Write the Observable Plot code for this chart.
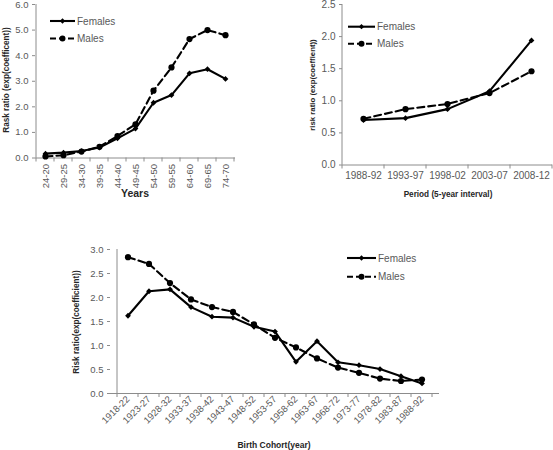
<!DOCTYPE html>
<html>
<head>
<meta charset="utf-8">
<script src="https://cdn.jsdelivr.net/npm/d3@7"></script>
<script src="https://cdn.jsdelivr.net/npm/@observablehq/plot@0.6"></script>
<style>
  html, body { margin: 0; padding: 0; background: #fff; }
  #chart { position: relative; width: 553px; height: 450px; overflow: hidden; background: #fff; }
  #chart > svg, #chart > div { position: absolute; }
</style>
</head>
<body>
<div id="chart"></div>
<script>
// ---------------- DATA ----------------
const ageGroups = ["24-20","29-25","34-30","39-35","44-40","49-45","54-50","59-55","64-60","69-65","74-70"];
const ageFemales = [0.17, 0.21, 0.27, 0.41, 0.77, 1.15, 2.16, 2.46, 3.31, 3.47, 3.09];
const ageMales   = [0.06, 0.11, 0.25, 0.44, 0.86, 1.32, 2.63, 3.54, 4.65, 5.00, 4.80];

const periods = ["1988-92","1993-97","1998-02","2003-07","2008-12"];
const periodFemales = [0.70, 0.73, 0.87, 1.15, 1.94];
const periodMales   = [0.72, 0.87, 0.95, 1.12, 1.46];

const cohorts = ["1918-22","1923-27","1928-32","1933-37","1938-42","1943-47","1948-52","1953-57","1958-62","1963-67","1968-72","1973-77","1978-82","1983-87","1988-92"];
const cohortFemales = [1.62, 2.13, 2.17, 1.80, 1.60, 1.58, 1.39, 1.29, 0.66, 1.09, 0.65, 0.59, 0.51, 0.36, 0.21];
const cohortMales   = [2.84, 2.70, 2.30, 1.96, 1.80, 1.70, 1.44, 1.16, 0.96, 0.73, 0.54, 0.43, 0.31, 0.26, 0.29];

const ageTicks = [0, 1, 2, 3, 4, 5, 6];
const periodTicks = [0, 0.5, 1, 1.5, 2, 2.5];
const cohortTicks = [0, 0.5, 1, 1.5, 2, 2.5, 3];

const seriesNames = ["Females", "Males"];

// ---------------- STYLE ----------------
const FONT = '"Liberation Sans", Arial, sans-serif';
const AXIS = "#8c8c8c";
const TEXT = "#595959";

function toRows(cats, f, m) {
  return cats.flatMap((c, i) => [
    {cat: c, value: f[i], series: "Females"},
    {cat: c, value: m[i], series: "Males"}
  ]);
}

// category boundary ticks + left axis line, from the band scale
function axisFrame(cats, len, yMax) {
  return (index, scales) => {
    const x = scales.x, y = scales.y;
    const step = x(cats[1]) - x(cats[0]);
    const y0 = y(0);
    const g = d3.create("svg:g").attr("stroke", AXIS).attr("stroke-width", 1);
    const xs = cats.map(c => x(c)).concat([x(cats[cats.length - 1]) + step]);
    for (const px of xs) {
      g.append("line").attr("x1", px).attr("x2", px).attr("y1", y0).attr("y2", y0 + len);
    }
    g.append("line").attr("x1", xs[0]).attr("x2", xs[0]).attr("y1", y0).attr("y2", y(yMax));
    return g.node();
  };
}

function panel({cats, f, m, ticks, yMax, width, height, margins, rotate, tickPadX, fontSize}) {
  const rows = toRows(cats, f, m);
  const fem = rows.filter(d => d.series === "Females");
  const mal = rows.filter(d => d.series === "Males");
  return Plot.plot({
    width, height,
    marginLeft: margins[3], marginRight: margins[1], marginTop: margins[0], marginBottom: margins[2],
    style: {fontFamily: FONT, fontSize: fontSize + "px", color: TEXT, background: "transparent", overflow: "visible"},
    x: {type: "band", domain: cats, padding: 0},
    y: {domain: [0, yMax]},
    marks: [
      Plot.ruleY([0], {stroke: AXIS}),
      Plot.axisY({ticks, tickFormat: d3.format(".1f"), tickSize: 3, tickPadding: 4, stroke: AXIS, fill: TEXT, label: null}),
      axisFrame(cats, 4, yMax),
      Plot.axisX({tickSize: 0, tickPadding: tickPadX, tickRotate: rotate, fill: TEXT, label: null}),
      Plot.line(fem, {x: "cat", y: "value", stroke: "black", strokeWidth: 2.1}),
      Plot.line(mal, {x: "cat", y: "value", stroke: "black", strokeWidth: 2.1, strokeDasharray: "7,4"}),
      Plot.dot(fem, {x: "cat", y: "value", symbol: "diamond2", r: 2.6, fill: "black"}),
      Plot.dot(mal, {x: "cat", y: "value", symbol: "circle", r: 3.1, fill: "black"})
    ]
  });
}

const chart = document.getElementById("chart");

function place(el, left, top) {
  el.style.position = "absolute";
  el.style.left = left + "px";
  el.style.top = top + "px";
  chart.appendChild(el);
}

// Panel A: age
const pA = panel({cats: ageGroups, f: ageFemales, m: ageMales, ticks: ageTicks, yMax: 6,
  width: 270, height: 200, margins: [4, 35, 42.5, 35], rotate: -90, tickPadX: 6, fontSize: 9.5});
place(pA, 0, 0);

// Panel B: period
const pB = panel({cats: periods, f: periodFemales, m: periodMales, ticks: periodTicks, yMax: 2.5,
  width: 263, height: 200, margins: [4, 1, 35.5, 52], rotate: 0, tickPadX: 7, fontSize: 10});
place(pB, 290, 0);

// Panel C: cohort
const pC = panel({cats: cohorts, f: cohortFemales, m: cohortMales, ticks: cohortTicks, yMax: 3,
  width: 553, height: 220, margins: [19, 114, 57, 110], rotate: -45, tickPadX: 4, fontSize: 9.5});
place(pC, 0, 230);

// ---------------- Titles & legends overlay ----------------
const ov = d3.create("svg").attr("width", 553).attr("height", 450)
  .style("position", "absolute").style("left", "0px").style("top", "0px")
  .style("font-family", FONT).style("pointer-events", "none");

function xTitle(text, x, y, size) {
  ov.append("text").attr("x", x).attr("y", y).attr("text-anchor", "middle")
    .attr("font-weight", "bold").attr("font-size", size).attr("fill", "#262626").text(text);
}
function yTitle(text, x, y, size) {
  ov.append("text").attr("transform", `translate(${x},${y}) rotate(-90)`).attr("text-anchor", "middle")
    .attr("font-weight", "bold").attr("font-size", size).attr("fill", "#262626").text(text);
}
xTitle("Years", 135, 197, 10.5);
yTitle("Rask ratio  (exp(coefficent))", 9, 80, 8.2);
xTitle("Period (5-year interval)", 448, 197, 8.2);
yTitle("risk ratio (exp(coeffient))", 315, 85, 7.8);
xTitle("Birth Cohort(year)", 274, 448, 8.5);
yTitle("Risk ratio(exp(coefficient))", 79, 322, 8.2);

function legend(x1, x2, yF, yM, tx, size) {
  const items = [[seriesNames[0], yF, null, d3.symbolDiamond2, 18], [seriesNames[1], yM, "6,3", d3.symbolCircle, 28]];
  for (const [name, y, dash, sym, area] of items) {
    ov.append("line").attr("x1", x1).attr("x2", x2).attr("y1", y).attr("y2", y)
      .attr("stroke", "black").attr("stroke-width", 2.1).attr("stroke-dasharray", dash);
    const cx = (x1 + x2) / 2;
    ov.append("path").attr("transform", `translate(${cx},${y})`)
      .attr("d", d3.symbol(sym, area)())
      .attr("fill", "black");
    ov.append("text").attr("x", tx).attr("y", y).attr("dy", "0.35em").attr("font-size", size)
      .attr("fill", TEXT).text(name);
  }
}
legend(50, 75, 21, 38.5, 77, 10);
legend(348, 375, 26.7, 43.7, 377, 10);
legend(347, 376, 258, 276.7, 378, 10);

chart.appendChild(ov.node());
</script>
</body>
</html>
